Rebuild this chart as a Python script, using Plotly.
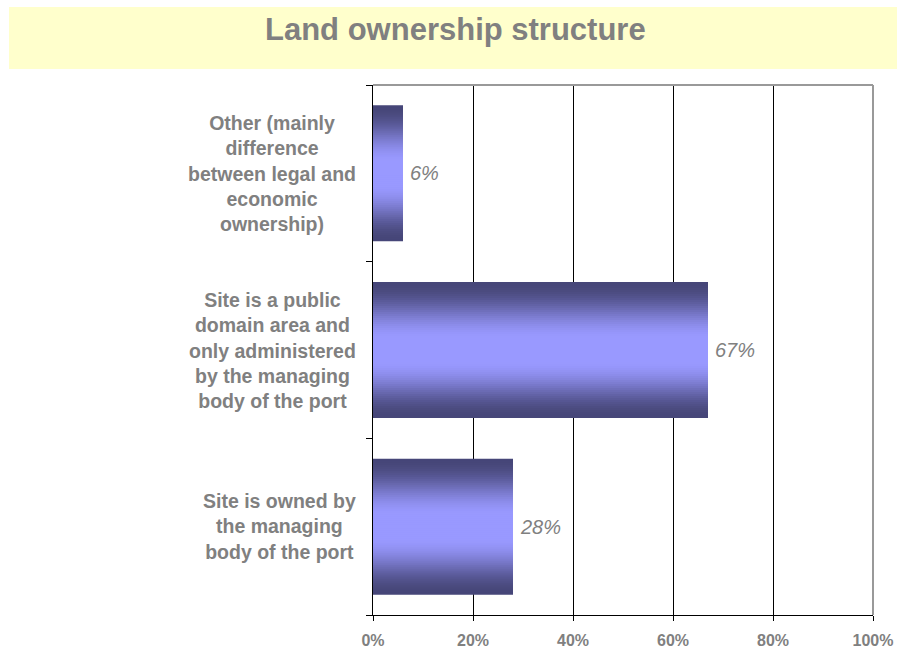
import plotly.graph_objects as go

# Survey answers (bottom to top as drawn on the category axis)
categories = [
    "Site is owned by<br>the managing<br>body of the port",
    "Site is a public<br>domain area and<br>only administered<br>by the managing<br>body of the port",
    "Other (mainly<br>difference<br>between legal and<br>economic<br>ownership)",
]
shares = [28, 67, 6]
x_ticks = [0, 20, 40, 60, 80, 100]
x_tick_labels = ["0%", "20%", "40%", "60%", "80%", "100%"]

GRAY = "#808080"
FONT = "Liberation Sans, Arial, sans-serif"
DARK = (70, 70, 120)
LIGHT = (153, 153, 255)
BAR_WIDTH = 0.77
STEPS = 34

fig = go.Figure()

# Cylinder-like shading: stacked bars of shrinking thickness, lighter toward the middle
for i in range(STEPS):
    t = i / (STEPS - 1)
    f = min(1.0, t / 0.85)
    f = f * f * (3 - 2 * f)
    col = tuple(round(d + (l - d) * f) for d, l in zip(DARK, LIGHT))
    fig.add_trace(go.Bar(
        x=shares,
        y=categories,
        orientation="h",
        width=BAR_WIDTH * (1 - i / STEPS),
        marker=dict(color="rgb(%d,%d,%d)" % col, line=dict(width=0)),
        hoverinfo="skip",
        showlegend=False,
    ))

annotations = []
# value labels at bar ends
for cat, v in zip(categories, shares):
    annotations.append(dict(
        x=v, y=cat, xref="x", yref="y", text=f"{v}%",
        xanchor="left", yanchor="middle", xshift=5, showarrow=False,
        font=dict(family=FONT, size=20, color=GRAY, style="italic"),
    ))
# category labels, centred block right-aligned to the axis
for cat in categories:
    annotations.append(dict(
        x=-0.03, y=cat, xref="paper", yref="y", text=f"<b>{cat}</b>",
        xanchor="right", yanchor="middle", align="center", showarrow=False,
        font=dict(family=FONT, size=19.5, color=GRAY),
    ))
# title
annotations.append(dict(
    x=(455 - 373) / 500, y=(615 - 29) / 530, xref="paper", yref="paper",
    text="<b>Land ownership structure</b>", xanchor="center", yanchor="middle",
    showarrow=False, font=dict(family=FONT, size=31, color=GRAY),
))

shapes = [
    # title band
    dict(type="rect", xref="paper", yref="paper",
         x0=(9 - 373) / 500, x1=(900 - 373) / 500,
         y0=(615 - 69) / 530, y1=(615 - 7) / 530,
         fillcolor="#FFFFCC", line=dict(width=0), layer="below"),
    # top and right frame
    dict(type="line", xref="paper", yref="paper", x0=0, x1=1, y0=1, y1=1,
         line=dict(color="#999999", width=2), layer="above"),
    dict(type="line", xref="paper", yref="paper", x0=1, x1=1, y0=0, y1=1,
         line=dict(color="#999999", width=2), layer="above"),
]

fig.update_layout(
    width=897, height=651,
    margin=dict(l=373, r=24, t=85, b=36),
    paper_bgcolor="white", plot_bgcolor="white",
    barmode="overlay",
    showlegend=False,
    annotations=annotations,
    shapes=shapes,
    xaxis=dict(
        range=[0, 100], tickvals=x_ticks, ticktext=x_tick_labels,
        showgrid=True, gridcolor="black", gridwidth=1,
        showline=True, linecolor="black", linewidth=1,
        ticks="outside", ticklen=5, tickcolor="black",
        ticklabelstandoff=6, automargin=False,
        tickfont=dict(family=FONT, size=16, color=GRAY, weight="bold"),
        zeroline=False, fixedrange=True,
    ),
    yaxis=dict(
        type="category", categoryorder="array", categoryarray=categories,
        range=[-0.5, 2.5], showticklabels=False, automargin=False,
        ticks="outside", tickson="boundaries", ticklen=6, tickcolor="black",
        showline=True, linecolor="black", linewidth=1,
        showgrid=False, zeroline=False, fixedrange=True,
    ),
)

fig.write_html("out.html")
